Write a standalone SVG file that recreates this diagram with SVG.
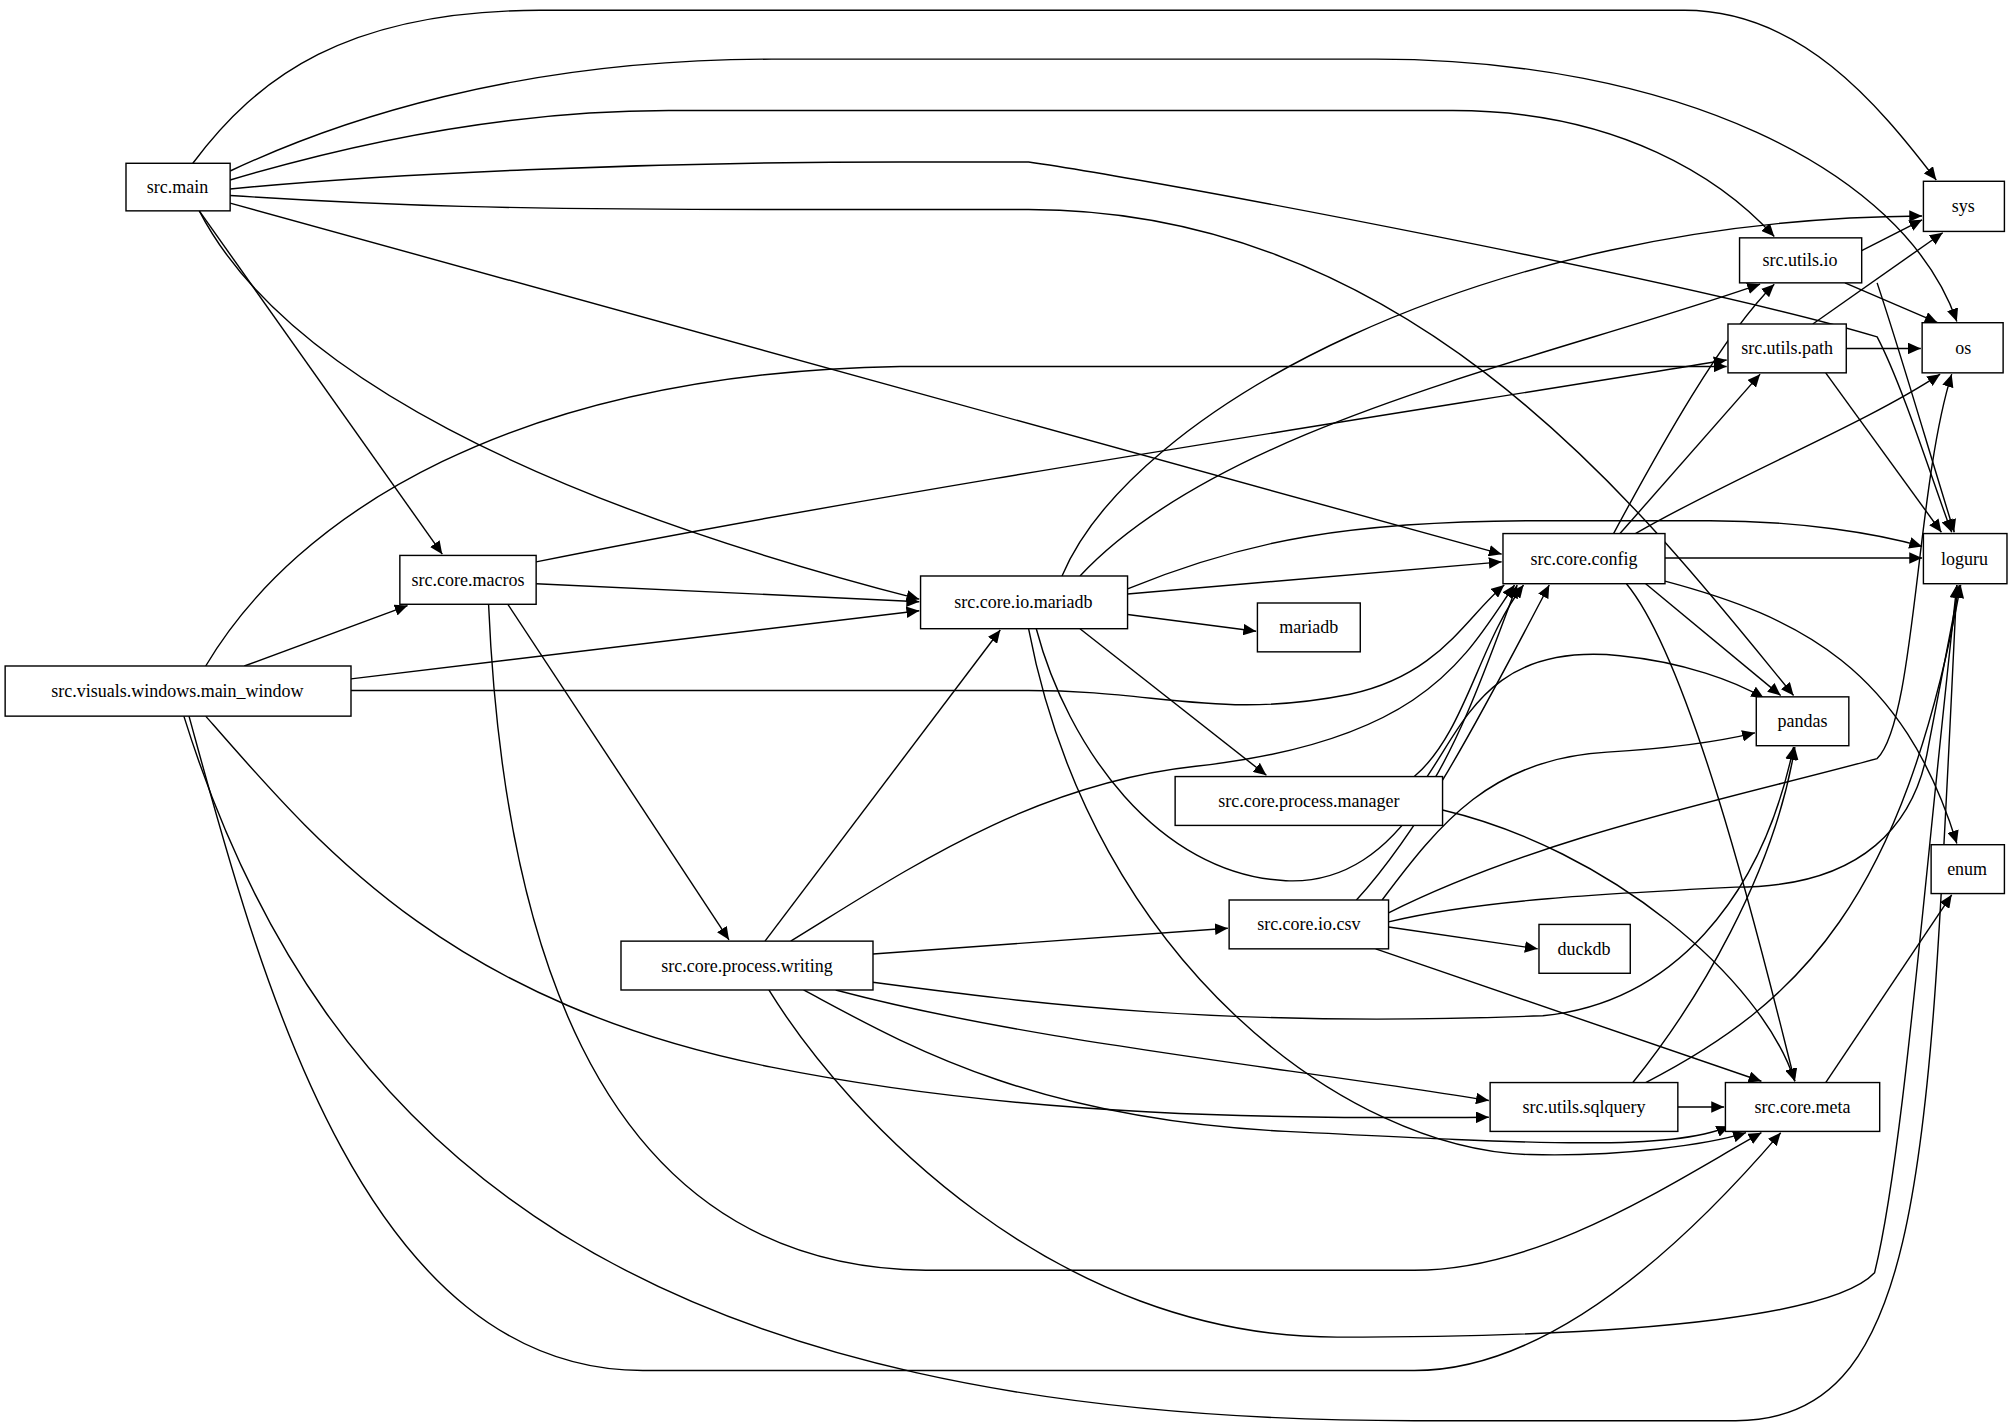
<svg xmlns="http://www.w3.org/2000/svg" width="2016" height="1427" viewBox="0 0 2016 1427">
<style>
.n rect{fill:#fff;stroke:#000;stroke-width:1.1}
.n text{font-family:"Liberation Serif",serif;font-size:14px;text-anchor:middle;dominant-baseline:central;fill:#000}
#edges path{fill:none;stroke:#000;stroke-width:1.1;marker-end:url(#a)}
</style>
<defs><marker id="a" markerUnits="userSpaceOnUse" markerWidth="11" markerHeight="9" refX="10" refY="4.5" orient="auto"><path d="M0,0L10,4.5L0,9z" fill="#000"/></marker></defs>
<rect width="2016" height="1427" fill="#fff"/>
<g transform="scale(1.2857)">
<g id="edges">
<path d="M150,127 C200,60 270,8 420,8 L1310,8 C1400,8 1460,80 1506,140"/>
<path d="M179,133 C260,95 400,46 600,46 H1070 C1300,46 1480,130 1522,250"/>
<path d="M179,140 C280,110 400,86 520,86 H1130 C1260,86 1340,140 1380,184"/>
<path d="M179,147 C300,135 500,126 700,126 H800 C900,140 1320,220 1460,262 C1480,300 1505,380 1518,414"/>
<path d="M179,152 C300,160 400,163 600,163 H800 C1100,163 1280,400 1395,541"/>
<path d="M179,158 L1168,431"/>
<path d="M155,164 C220,290 420,390 715,466"/>
<path d="M155,164 L344,431"/>
<path d="M1448,195 L1495,171"/>
<path d="M1435,220 L1507,251"/>
<path d="M1460,220 C1480,280 1500,350 1520,414"/>
<path d="M1436,271 L1494,271"/>
<path d="M1410,252 L1511,181"/>
<path d="M1420,290 L1510,414"/>
<path d="M1255,415 C1290,350 1340,260 1380,221"/>
<path d="M1260,415 L1369,291"/>
<path d="M1272,415 C1350,370 1450,330 1509,291"/>
<path d="M1295,434 L1495,434"/>
<path d="M1280,454 L1385,541"/>
<path d="M1265,454 C1320,520 1380,780 1396,841"/>
<path d="M1295,452 C1400,480 1480,520 1522,656"/>
<path d="M826,448 C880,320 1150,170 1495,168"/>
<path d="M840,448 C950,330 1200,280 1369,221"/>
<path d="M877,458 C970,420 1050,405 1200,405 H1330 C1400,405 1460,415 1495,425"/>
<path d="M877,462 L1168,437"/>
<path d="M877,478 L977,491"/>
<path d="M840,489 L985,603"/>
<path d="M806,489 C830,580 900,680 1000,685 C1100,690 1140,560 1180,455"/>
<path d="M800,489 C850,750 1050,895 1190,898 C1260,900 1330,890 1358,881"/>
<path d="M417,454 L715,468"/>
<path d="M417,437 C700,380 1100,320 1343,280"/>
<path d="M395,470 L567,731"/>
<path d="M380,470 C390,700 450,985 720,988 H1100 C1200,988 1300,920 1370,881"/>
<path d="M190,518 L317,471"/>
<path d="M273,528 L715,475"/>
<path d="M160,518 C230,400 400,290 700,285 H1343"/>
<path d="M273,537 H800 C900,537 950,560 1050,540 C1120,525 1140,480 1170,455"/>
<path d="M160,557 C250,660 350,780 600,830 C800,870 1000,870 1158,869"/>
<path d="M147,557 C200,750 280,1066 500,1066 H1100 C1200,1066 1300,980 1385,881"/>
<path d="M143,557 C250,900 500,1105 1100,1105 H1350 C1500,1105 1500,900 1522,455"/>
<path d="M595,732 L778,490"/>
<path d="M615,732 C700,680 800,610 930,596 C1110,576 1140,510 1178,455"/>
<path d="M679,742 L955,722"/>
<path d="M679,764 C800,780 950,800 1200,790 C1300,780 1370,700 1395,581"/>
<path d="M650,770 C800,810 1000,830 1158,856"/>
<path d="M625,770 C700,810 800,870 1000,880 C1200,890 1300,895 1345,876"/>
<path d="M598,770 C660,870 820,1040 1040,1040 C1300,1040 1430,1020 1458,990 C1480,900 1495,700 1522,455"/>
<path d="M1100,604 C1140,570 1150,500 1185,455"/>
<path d="M1110,604 C1140,560 1160,500 1260,510 C1310,515 1350,530 1372,543"/>
<path d="M1122,630 C1250,660 1370,760 1396,841"/>
<path d="M1055,700 C1110,640 1160,540 1205,455"/>
<path d="M1075,700 C1120,640 1160,590 1250,585 C1300,582 1340,576 1365,570"/>
<path d="M1080,710 C1200,650 1350,620 1460,590 C1490,560 1490,380 1518,291"/>
<path d="M1080,717 C1150,700 1250,695 1350,690 C1450,690 1490,640 1500,580 L1524,455"/>
<path d="M1080,721 L1196,738"/>
<path d="M1070,738 L1370,841"/>
<path d="M1305,861 L1341,861"/>
<path d="M1270,842 C1320,780 1380,680 1396,581"/>
<path d="M1280,842 C1400,780 1480,700 1525,455"/>
<path d="M1420,842 L1518,696"/>
</g>
<g id="src_main" class="n"><rect x="98" y="127" width="81" height="37"/><text x="138" y="145.5">src.main</text></g>
<g id="sys" class="n"><rect x="1496" y="141" width="63" height="39"/><text x="1527" y="160.5">sys</text></g>
<g id="src_utils_io" class="n"><rect x="1353" y="185" width="95" height="35"/><text x="1400" y="202.5">src.utils.io</text></g>
<g id="os" class="n"><rect x="1495" y="251" width="63" height="39"/><text x="1527" y="271">os</text></g>
<g id="src_utils_path" class="n"><rect x="1344" y="252" width="92" height="38"/><text x="1390" y="271">src.utils.path</text></g>
<g id="loguru" class="n"><rect x="1496" y="415" width="65" height="39"/><text x="1528" y="434.5">loguru</text></g>
<g id="src_core_config" class="n"><rect x="1169" y="415" width="126" height="39"/><text x="1232" y="434.5">src.core.config</text></g>
<g id="src_core_macros" class="n"><rect x="311" y="432" width="106" height="38"/><text x="364" y="451">src.core.macros</text></g>
<g id="src_core_io_mariadb" class="n"><rect x="716" y="448" width="161" height="41"/><text x="796" y="468.5">src.core.io.mariadb</text></g>
<g id="mariadb" class="n"><rect x="978" y="469" width="80" height="38"/><text x="1018" y="488">mariadb</text></g>
<g id="main_window" class="n"><rect x="4" y="518" width="269" height="39"/><text x="138" y="537.5">src.visuals.windows.main_window</text></g>
<g id="pandas" class="n"><rect x="1366" y="542" width="72" height="38"/><text x="1402" y="561">pandas</text></g>
<g id="src_core_process_manager" class="n"><rect x="914" y="604" width="208" height="38"/><text x="1018" y="623">src.core.process.manager</text></g>
<g id="enum" class="n"><rect x="1502" y="657" width="57" height="38"/><text x="1530" y="676">enum</text></g>
<g id="src_core_io_csv" class="n"><rect x="956" y="700" width="124" height="38"/><text x="1018" y="719">src.core.io.csv</text></g>
<g id="duckdb" class="n"><rect x="1197" y="719" width="71" height="38"/><text x="1232" y="738">duckdb</text></g>
<g id="src_core_process_writing" class="n"><rect x="483" y="732" width="196" height="38"/><text x="581" y="751">src.core.process.writing</text></g>
<g id="src_utils_sqlquery" class="n"><rect x="1159" y="842" width="146" height="38"/><text x="1232" y="861">src.utils.sqlquery</text></g>
<g id="src_core_meta" class="n"><rect x="1342" y="842" width="120" height="38"/><text x="1402" y="861">src.core.meta</text></g>
</g>
</svg>
